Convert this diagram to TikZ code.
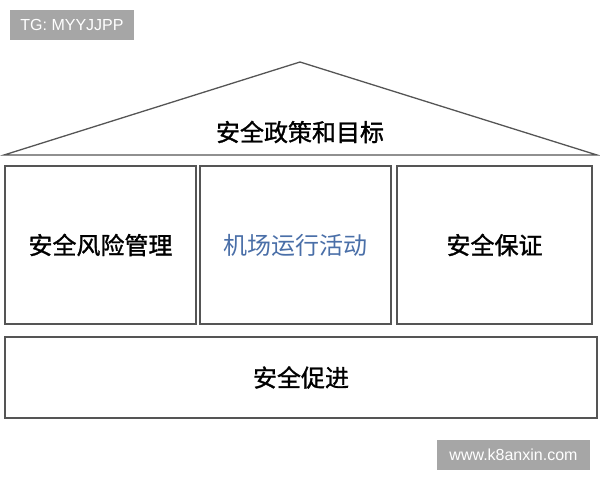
\documentclass[tikz,border=0pt]{standalone}
\usepackage{fontspec}
\newfontfamily\cjk{Noto Sans CJK SC}
\newfontfamily\cjkbold{Noto Sans CJK SC}[FakeBold=1.3]
\newfontfamily\tagfont{Liberation Sans}
\definecolor{edgegray}{HTML}{555555}
\definecolor{taggray}{HTML}{A6A6A6}
\definecolor{actblue}{HTML}{4A6FA8}
\usetikzlibrary{calc}
\tikzstyle{pillar} = [
    rectangle,
    minimum height = 158pt,
    text centered,
    draw = edgegray,
    line width = 1.6pt,
    font = \cjkbold\fontsize{24}{24}\selectfont
]
\tikzstyle{tagbox} = [
    rectangle,
    fill = taggray,
    text = white,
    inner sep = 0pt,
    minimum height = 30pt,
    font = \tagfont\fontsize{16}{16}\selectfont
]

\begin{document}
\begin{tikzpicture}[x=1pt, y=-1pt]
        \useasboundingbox (0,0) rectangle (600,480);

        %% Tags
        \node (tg)  [tagbox, minimum width=124pt] at (72,25)   {TG: MYYJJPP};
        \node (web) [tagbox, minimum width=153pt] at (513.5,455) {www.k8anxin.com};

        %% Roof
        \coordinate (apex)  at (300,62);
        \coordinate (eaveL) at (4,155);
        \coordinate (eaveR) at (597,155);
        \draw[edgegray, line width=1.3pt, line join=miter] (eaveL) -- (apex) -- (eaveR) -- cycle;
        \node (policy) [font=\cjkbold\fontsize{24}{24}\selectfont] at (300,132) {安全政策和目标};

        %% Pillars
        \node (risk)   [pillar, minimum width=191pt] at (100.5,245) {安全风险管理};
        \node (ops)    [pillar, minimum width=191pt, text=actblue, font=\cjk\fontsize{24}{24}\selectfont] at (295.5,245) {机场运行活动};
        \node (assure) [pillar, minimum width=195pt] at (494.5,245) {安全保证};

        %% Foundation
        \node (promo)  [pillar, minimum width=592pt, minimum height=81pt] at (301,377.5) {安全促进};

    \end{tikzpicture}
\end{document}
